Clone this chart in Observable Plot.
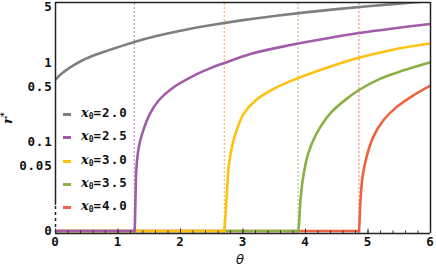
<!DOCTYPE html>
<html><head><meta charset="utf-8">
<script src="https://cdn.jsdelivr.net/npm/d3@7"></script>
<script src="https://cdn.jsdelivr.net/npm/@observablehq/plot@0.6"></script>
<style>
html,body{margin:0;padding:0;background:#fff;}
#wrap{position:relative;width:436px;height:270px;}
.mono{font-family:"DejaVu Sans Mono",monospace;font-weight:bold;letter-spacing:1px;}
#legend{position:absolute;left:62px;top:103px;}
.item{position:relative;height:23.25px;width:80px;}
.sw{position:absolute;left:0.5px;top:10px;width:8px;height:3px;}
.lt{position:absolute;left:19px;top:2px;font-size:12.5px;color:#111;white-space:nowrap;}
.lt i{font-family:"DejaVu Serif",serif;font-style:italic;font-weight:bold;font-size:13px;letter-spacing:0;}
.lt sub{font-size:8px;vertical-align:-2px;letter-spacing:0;}
#ylab{position:absolute;left:0px;top:110px;transform:rotate(-90deg);font-family:"DejaVu Serif",serif;font-weight:bold;font-style:italic;font-size:13px;line-height:13px;color:#111;}
#ylab sup{font-size:9px;font-style:normal;}
#xlab{position:absolute;left:236px;top:252px;font-family:"DejaVu Sans",sans-serif;font-style:italic;font-size:13px;color:#111;}
</style>
</head><body>
<div id="wrap"></div>
<script>
// ---- data ----
const seriesNames = ["x0=2.0", "x0=2.5", "x0=3.0", "x0=3.5", "x0=4.0"];
const legendValues = ["2.0", "2.5", "3.0", "3.5", "4.0"];
const colors = ["#7f7f7f", "#a15ba8", "#ffc10e", "#8cb043", "#ef6240"];
const dashColors = ["#7f7f7f", "#b47cbb", "#f7a824", "#a3bd72", "#f27a62"];
const thetaC = [0, 1.26, 2.70, 3.88, 4.855];

const theta20 = [0, 0.1, 0.2, 0.3, 0.45, 0.65, 0.83, 1.25, 1.6, 2.0, 2.5, 3.0, 3.5, 4.0, 4.5, 5.0, 5.5, 6.0];
const r20     = [0.617, 0.733, 0.841, 0.944, 1.096, 1.274, 1.429, 1.828, 2.163, 2.541, 3.0, 3.467, 3.908, 4.335, 4.764, 5.188, 5.598, 6.026];

const theta25 = [0, 1.265, 1.27, 1.28, 1.296, 1.333, 1.387, 1.51, 1.65, 1.89, 2.27, 2.48, 2.69, 3.12, 3.76, 4.4, 4.853, 5.4, 6.0];
const r25     = [0, 0, 0.009, 0.02, 0.0486, 0.087, 0.128, 0.228, 0.336, 0.493, 0.727, 0.86, 0.99, 1.30, 1.68, 2.08, 2.38, 2.72, 3.10];

const theta30 = [0, 2.70, 2.708, 2.736, 2.77, 2.82, 2.88, 3.01, 3.2, 3.49, 3.76, 4.4, 4.853, 5.4, 6.0];
const r30     = [0, 0, 0.009, 0.0186, 0.0486, 0.085, 0.128, 0.228, 0.336, 0.47, 0.59, 0.90, 1.16, 1.47, 1.76];

const theta35 = [0, 3.885, 3.895, 3.92, 3.963, 4.043, 4.176, 4.389, 4.656, 4.843, 5.19, 5.56, 6.0];
const r35     = [0, 0, 0.009, 0.0186, 0.0364, 0.0717, 0.128, 0.228, 0.352, 0.449, 0.629, 0.80, 1.02];

const theta40 = [0, 4.857, 4.862, 4.88, 4.912, 4.976, 5.083, 5.243, 5.456, 5.723, 6.0];
const r40     = [0, 0, 0.009, 0.0186, 0.0364, 0.065, 0.116, 0.188, 0.277, 0.388, 0.518];

const xTicks = [0, 1, 2, 3, 4, 5, 6];
const xMinorTicks = d3.range(0, 6.0001, 0.2);
const yTickValues = [0, 0.05, 0.1, 0.5, 1, 5];
const yTickLabels = ["0", "0.05", "0.1", "0.5", "1", "5"];

// ---- scale constants ----
const X_DOMAIN = [0, 6];
const Y_BOTTOM = 0.00706, Y_TOP = 5.78;
const ZERO = 0.0076;   // where r* = 0 is drawn on the log axis
const BREAK = 0.016;   // the axis is dashed below this value

const thetas = [theta20, theta25, theta30, theta35, theta40];
const rs = [r20, r25, r30, r35, r40];
const rows = [];
seriesNames.forEach((s, i) => thetas[i].forEach((t, j) => rows.push({s, i, j, theta: t, r: rs[i][j]})));
const mapY = v => v === 0 ? ZERO : v;

// zero segment (straight) and rising part (smooth) of each series
const order = [4, 3, 2, 1, 0]; // later series drawn first so earlier zero segments stay visible
const lineMarks = [];
order.forEach(i => {
  const ser = rows.filter(d => d.i === i);
  const zeroPart = ser.filter(d => d.r === 0);
  const lastZero = zeroPart.length ? zeroPart[zeroPart.length - 1].j : -1;
  const risePart = ser.filter(d => d.j >= Math.max(lastZero, 0));
  if (zeroPart.length > 1) lineMarks.push(Plot.line(zeroPart, {x: "theta", y: d => mapY(d.r), stroke: colors[i], strokeWidth: 2.6, clip: true}));
  lineMarks.push(Plot.line(risePart, {x: "theta", y: d => mapY(d.r), stroke: colors[i], strokeWidth: 2.6, clip: true, curve: "catmull-rom"}));
});

const critRows = thetaC.map((t, i) => ({t, i})).filter(d => d.i > 0);
const yTickRows = yTickValues.map((v, i) => ({v: mapY(v), label: yTickLabels[i]}));
const xTickRows = xTicks.map(v => ({v, label: String(v)}));

const chart = Plot.plot({
  width: 436, height: 270,
  marginLeft: 55, marginRight: 6, marginTop: 2, marginBottom: 37,
  style: {fontFamily: "DejaVu Sans Mono", fontSize: "12px", fontWeight: "bold", color: "#111", background: "white"},
  x: {domain: X_DOMAIN, axis: null},
  y: {type: "log", domain: [Y_BOTTOM, Y_TOP], axis: null},
  marks: [
    Plot.ruleX(critRows, {x: "t", y1: Y_BOTTOM, y2: Y_TOP, stroke: d => dashColors[d.i], strokeWidth: 1, strokeDasharray: "2,2"}),
    ...lineMarks,
    Plot.ruleX([0], {y1: BREAK, y2: Y_TOP, stroke: "#222", strokeWidth: 1.5}),
    Plot.ruleX([0], {y1: Y_BOTTOM, y2: BREAK, stroke: "#222", strokeWidth: 1.5, strokeDasharray: "3,3"}),
    Plot.ruleX([6], {stroke: "#222", strokeWidth: 1.5}),
    Plot.ruleY([Y_TOP], {stroke: "#222", strokeWidth: 1.5}),
    Plot.ruleY([Y_BOTTOM], {stroke: "#222", strokeWidth: 1.5}),
    Plot.axisX({ticks: xMinorTicks, tickSize: -2.5, tickFormat: () => "", label: null, stroke: "#333"}),
    Plot.axisX({ticks: xTicks, tickSize: -4.5, tickFormat: () => "", label: null, stroke: "#333"}),
    Plot.text(xTickRows, {x: "v", text: "label", frameAnchor: "bottom", lineAnchor: "top", dy: 4,
      fontFamily: "DejaVu Sans Mono", fontWeight: "bold", fontSize: 12.5, fill: "#111"}),
    Plot.text(yTickRows, {y: "v", text: "label", frameAnchor: "left", textAnchor: "end", dx: -3,
      fontFamily: "DejaVu Sans Mono", fontWeight: "bold", fontSize: 12.5, fill: "#111"})
  ]
});
const wrap = document.getElementById("wrap");
wrap.appendChild(chart);
chart.querySelectorAll("text").forEach(t => t.style.letterSpacing = "0.8px");

// legend (inside the plot area)
const legend = document.createElement("div");
legend.id = "legend";
legendValues.forEach((v, i) => {
  const it = document.createElement("div");
  it.className = "item";
  it.innerHTML = `<div class="sw" style="background:${colors[i]}"></div><div class="lt mono"><i>x</i><sub>0</sub>=${v}</div>`;
  legend.appendChild(it);
});
wrap.appendChild(legend);

const yl = document.createElement("div");
yl.id = "ylab"; yl.innerHTML = "r<sup>*</sup>";
wrap.appendChild(yl);
const xl = document.createElement("div");
xl.id = "xlab"; xl.textContent = "θ";
wrap.appendChild(xl);
</script>
</body></html>
